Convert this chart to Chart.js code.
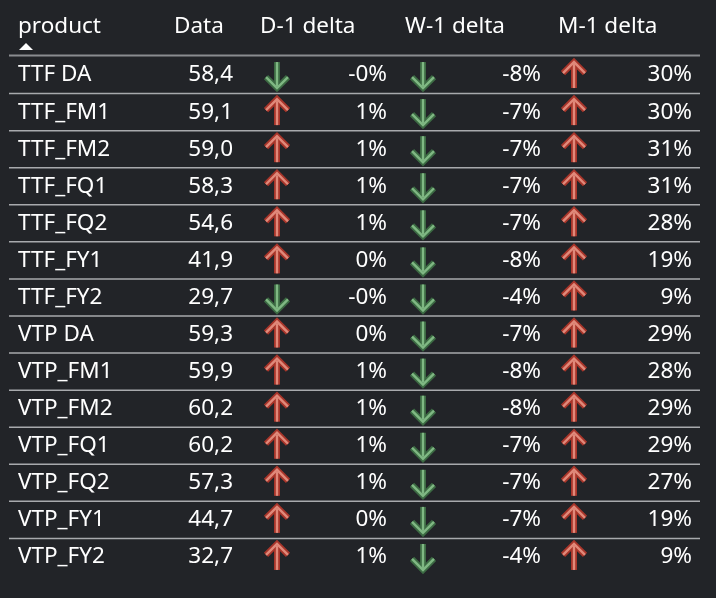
<!DOCTYPE html>
<html>
<head>
<meta charset="utf-8">
<script src="https://cdn.jsdelivr.net/npm/chart.js@4/dist/chart.umd.min.js"></script>
<style>
  html, body { margin: 0; padding: 0; background: #222428; }
  #wrap { width: 716px; height: 598px; }
</style>
</head>
<body>
<div id="wrap"><canvas id="c"></canvas></div>
<script>
const products = ['TTF DA', 'TTF_FM1', 'TTF_FM2', 'TTF_FQ1', 'TTF_FQ2', 'TTF_FY1', 'TTF_FY2',
  'VTP DA', 'VTP_FM1', 'VTP_FM2', 'VTP_FQ1', 'VTP_FQ2', 'VTP_FY1', 'VTP_FY2'];
const dataValues = [58.4, 59.1, 59.0, 58.3, 54.6, 41.9, 29.7, 59.3, 59.9, 60.2, 60.2, 57.3, 44.7, 32.7];
// displayed percentages plus arrow direction (1 up, -1 down)
const d1Delta = ['-0', '1', '1', '1', '1', '0', '-0', '0', '1', '1', '1', '1', '0', '1'];
const d1Dir = [-1, 1, 1, 1, 1, 1, -1, 1, 1, 1, 1, 1, 1, 1];
const w1Delta = ['-8', '-7', '-7', '-7', '-7', '-8', '-4', '-7', '-8', '-8', '-7', '-7', '-7', '-4'];
const w1Dir = [-1, -1, -1, -1, -1, -1, -1, -1, -1, -1, -1, -1, -1, -1];
const m1Delta = ['30', '30', '31', '31', '28', '19', '9', '29', '28', '29', '29', '27', '19', '9'];
const m1Dir = [1, 1, 1, 1, 1, 1, 1, 1, 1, 1, 1, 1, 1, 1];
const headers = ['product', 'Data', 'D-1 delta', 'W-1 delta', 'M-1 delta'];

const FONT = '22.5px "Noto Sans", "Open Sans", sans-serif';

function drawArrow(ctx, x, y, dir) {
  const up = dir > 0;
  const h = 13 * dir;
  const pts = [[x, y + h], [x, y - h]];
  const head = [[x - 11, y - h + 11 * dir], [x, y - h], [x + 11, y - h + 11 * dir]];
  const layers = up ? [['#a8352a', 6], ['#e0897a', 2.4]] : [['#3c6a43', 6], ['#7fb883', 2.4]];
  layers.forEach(([col, w]) => {
    ctx.strokeStyle = col;
    ctx.lineWidth = w;
    ctx.lineCap = 'butt';
    ctx.lineJoin = 'miter';
    ctx.beginPath();
    ctx.moveTo(pts[0][0], pts[0][1]);
    ctx.lineTo(pts[1][0], pts[1][1] + (w > 3 ? 0 : 2 * dir));
    ctx.stroke();
    ctx.beginPath();
    ctx.moveTo(head[0][0], head[0][1]);
    ctx.lineTo(head[1][0], head[1][1]);
    ctx.lineTo(head[2][0], head[2][1]);
    ctx.stroke();
  });
}

const tablePlugin = {
  id: 'table',
  afterDraw(chart) {
    const ctx = chart.ctx;
    const ys = chart.scales.y;
    const area = chart.chartArea;
    const rowH = (area.bottom - area.top) / products.length;
    ctx.save();
    ctx.font = FONT;
    ctx.fillStyle = '#ffffff';
    ctx.textBaseline = 'middle';
    // header
    const hy = 27;
    ctx.textAlign = 'left';
    [18, 174, 260, 405, 558].forEach((x, i) => ctx.fillText(headers[i], x, hy));
    ctx.beginPath();
    ctx.moveTo(19, 50); ctx.lineTo(33, 50); ctx.lineTo(26, 43); ctx.closePath();
    ctx.fill();
    // separators
    ctx.strokeStyle = '#8a8c90';
    ctx.lineWidth = 2;
    ctx.beginPath();
    ctx.moveTo(9, area.top - 1); ctx.lineTo(700, area.top - 1);
    ctx.stroke();
    ctx.strokeStyle = '#a8aaad';
    ctx.lineWidth = 1.5;
    for (let k = 1; k < products.length; k++) {
      const ly = area.top + k * rowH;
      ctx.beginPath();
      ctx.moveTo(9, ly); ctx.lineTo(700, ly);
      ctx.stroke();
    }
    // rows
    products.forEach((p, i) => {
      const y = ys.getPixelForValue(i);
      ctx.fillStyle = '#ffffff';
      ctx.textAlign = 'left';
      ctx.fillText(p, 18, y);
      ctx.textAlign = 'right';
      ctx.fillText(dataValues[i].toFixed(1).replace('.', ','), 233, y);
      ctx.fillText(d1Delta[i] + '%', 387, y);
      ctx.fillText(w1Delta[i] + '%', 541, y);
      ctx.fillText(m1Delta[i] + '%', 692, y);
      drawArrow(ctx, 277, y, d1Dir[i]);
      drawArrow(ctx, 423, y, w1Dir[i]);
      drawArrow(ctx, 574, y, m1Dir[i]);
    });
    ctx.restore();
  }
};

new Chart(document.getElementById('c'), {
  type: 'scatter',
  data: {
    datasets: [{
      data: products.map((p, i) => ({ x: dataValues[i], y: p })),
      pointRadius: 0,
    }],
  },
  options: {
    responsive: true,
    maintainAspectRatio: false,
    animation: false,
    layout: { padding: { top: 56.5, bottom: 22.5, left: 9, right: 16 } },
    plugins: { legend: { display: false }, tooltip: { enabled: false } },
    scales: {
      x: { display: false, min: 0, max: 100 },
      y: { type: 'category', labels: products, offset: true, display: false },
    },
  },
  plugins: [tablePlugin],
});
</script>
</body>
</html>
